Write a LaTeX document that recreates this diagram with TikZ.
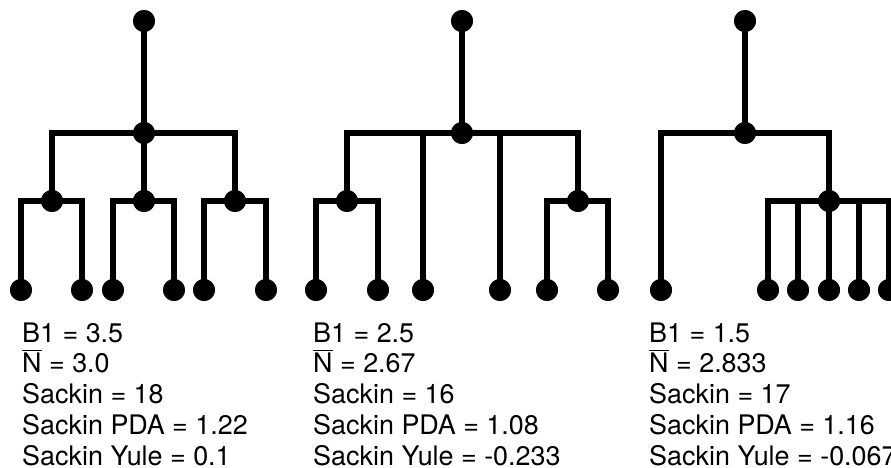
\documentclass[tikz,border=0pt]{standalone}
\usepackage{fontspec}
\setmainfont{TeX Gyre Heros}
\newcommand{\nbar}{{\setbox0\hbox{N}\rlap{\rule[\dimexpr\ht0+2.2pt\relax]{\wd0}{1.4pt}}N}}
\begin{document}
\begin{tikzpicture}[x=1pt,y=-1pt,
  blob/.style={circle,fill=black,inner sep=0pt,minimum size=22pt},
  edge/.style={line width=5.3pt,line join=miter},
  stat/.style={anchor=base west,inner sep=0pt,font=\fontsize{26.9}{31}\selectfont}]
\useasboundingbox (0,0) rectangle (891,468);

% ---- tree 1: three cherries under one node
\node[blob] (r1) at (144,21) {};
\node[blob] (m1) at (144,133) {};
\node[blob] (a1) at (52,201) {};
\node[blob] (b1) at (144,201) {};
\node[blob] (c1) at (235,201) {};
\foreach \n/\x in {l11/21,l12/82,l13/113,l14/174,l15/204,l16/266}
  \node[blob] (\n) at (\x,290) {};

% ---- tree 2: two cherries and two single leaves
\node[blob] (r2) at (462,21) {};
\node[blob] (m2) at (462,133) {};
\node[blob] (a2) at (347,201) {};
\node[blob] (c2) at (578,201) {};
\foreach \n/\x in {l21/316,l22/378,l23/423,l24/500,l25/547,l26/608}
  \node[blob] (\n) at (\x,290) {};

% ---- tree 3: one leaf and a five-leaf fan
\node[blob] (r3) at (745,21) {};
\node[blob] (m3) at (745,133) {};
\node[blob] (c3) at (829,201) {};
\foreach \n/\x in {l31/661,l32/768,l33/798,l34/829,l35/859,l36/889}
  \node[blob] (\n) at (\x,290) {};

% ---- edges (elbow connectors from parent to child)
\foreach \p/\c in {r1/m1,m1/a1,m1/b1,m1/c1,a1/l11,a1/l12,b1/l13,b1/l14,c1/l15,c1/l16,
                   r2/m2,m2/a2,m2/l23,m2/l24,m2/c2,a2/l21,a2/l22,c2/l25,c2/l26,
                   r3/m3,m3/l31,m3/c3,c3/l32,c3/l33,c3/l34,c3/l35,c3/l36}
  \draw[edge] (\p.center) -| (\c.center);
% redraw dots on top of the edges
\foreach \n in {r1,m1,a1,b1,c1,l11,l12,l13,l14,l15,l16,
                r2,m2,a2,c2,l21,l22,l23,l24,l25,l26,
                r3,m3,c3,l31,l32,l33,l34,l35,l36}
  \fill (\n.center) circle (11pt);

% ---- statistics below each tree
\node[stat] (s11) at (22,342)   {B1 = 3.5};
\node[stat] (s12) at (22,372.8) {\nbar{} = 3.0};
\node[stat] (s13) at (22,403.6) {Sackin = 18};
\node[stat] (s14) at (22,434.4) {Sackin PDA = 1.22};
\node[stat] (s15) at (22,465.2) {Sackin Yule = 0.1};

\node[stat] (s21) at (313,342)   {B1 = 2.5};
\node[stat] (s22) at (313,372.8) {\nbar{} = 2.67};
\node[stat] (s23) at (313,403.6) {Sackin = 16};
\node[stat] (s24) at (313,434.4) {Sackin PDA = 1.08};
\node[stat] (s25) at (313,465.2) {Sackin Yule = -0.233};

\node[stat] (s31) at (649,342)   {B1 = 1.5};
\node[stat] (s32) at (649,372.8) {\nbar{} = 2.833};
\node[stat] (s33) at (649,403.6) {Sackin = 17};
\node[stat] (s34) at (649,434.4) {Sackin PDA = 1.16};
\node[stat] (s35) at (649,465.2) {Sackin Yule = -0.067};
\end{tikzpicture}
\end{document}
